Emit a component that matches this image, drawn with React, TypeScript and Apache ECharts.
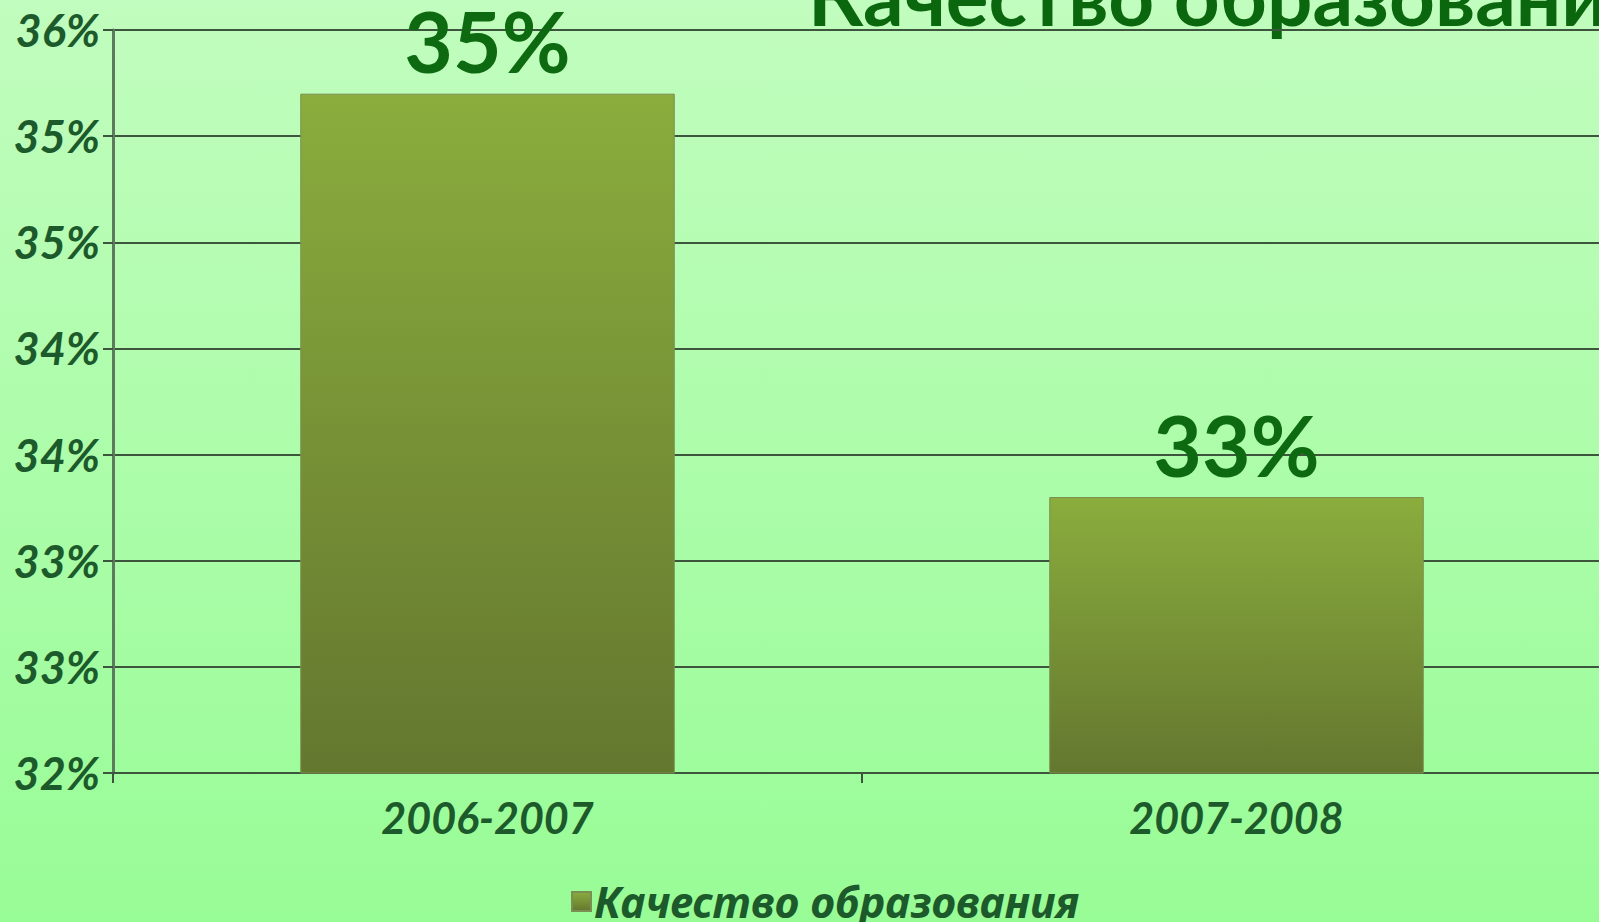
import React, { useEffect, useRef } from "react";
import * as echarts from "echarts";

const categories = ["2006-2007", "2007-2008"];
const qualityValues = [0.352, 0.333];
const yTickLabels = ["32%", "33%", "33%", "34%", "34%", "35%", "35%", "36%"];
const seriesName = "Качество образования";
const titleText = "Качество образования";

export default function App() {
  const ref = useRef<HTMLDivElement>(null);
  useEffect(() => {
    if (!ref.current) return;
    const chart = echarts.init(ref.current, null, { renderer: "svg" });
    const darkGreen = "#1d5a2b";
    const barGradient = {
      type: "linear",
      x: 0,
      y: 0,
      x2: 0,
      y2: 1,
      colorStops: [
        { offset: 0, color: "#8aad3d" },
        { offset: 1, color: "#64772f" },
      ],
    };
    chart.setOption({
      animation: false,
      backgroundColor: {
        type: "linear",
        x: 0,
        y: 0,
        x2: 0,
        y2: 1,
        colorStops: [
          { offset: 0, color: "#c1fdbe" },
          { offset: 1, color: "#98fc96" },
        ],
      },
      grid: { left: 113, top: 30, width: 1498, height: 743 },
      graphic: [
        {
          type: "text",
          left: 808,
          top: -45,
          style: {
            text: titleText,
            font: "bold 80px Lato",
            fill: "#0b670d",
          },
        },
      ],
      legend: {
        data: [seriesName],
        left: 571,
        top: 880,
        padding: 0,
        icon: "rect",
        itemWidth: 19,
        itemHeight: 19,
        itemGap: 4,
        textStyle: {
          color: darkGreen,
          fontFamily: "Noto Sans",
          fontWeight: "bold",
          fontStyle: "italic",
          fontSize: 43,
          padding: [0, 0, 0, -2],
        },
      },
      xAxis: {
        type: "category",
        data: categories,
        axisLine: { lineStyle: { color: "#3c553c", width: 2 } },
        axisTick: { show: true, length: 10, lineStyle: { color: "#3c553c", width: 2 } },
        axisLabel: {
          margin: 23,
          color: darkGreen,
          fontFamily: "Lato",
          fontWeight: "bold",
          fontStyle: "italic",
          fontSize: 43,
        },
      },
      yAxis: {
        type: "value",
        min: 0.32,
        max: 0.355,
        interval: 0.005,
        axisLine: { show: true, lineStyle: { color: "#5c7a5c", width: 3 } },
        axisTick: { show: true, length: 10, lineStyle: { color: "#3c553c", width: 2 } },
        splitLine: { lineStyle: { color: "#3c553c", width: 2 } },
        axisLabel: {
          margin: 13,
          color: darkGreen,
          fontFamily: "Lato",
          fontWeight: "bold",
          fontStyle: "italic",
          fontSize: 45,
          formatter: (_v: number, i: number) => yTickLabels[i] ?? "",
        },
      },
      series: [
        {
          name: seriesName,
          type: "bar",
          data: qualityValues,
          barWidth: "50%",
          itemStyle: { color: barGradient, borderColor: "#7b8f52", borderWidth: 1 },
          label: {
            show: true,
            position: "top",
            distance: 11,
            color: "#0e6a10",
            fontFamily: "Lato",
            fontWeight: "bold",
            fontSize: 84,
            formatter: (p: any) => Math.round(p.value * 100) + "%",
          },
        },
      ],
    });
    return () => chart.dispose();
  }, []);
  return (
    <div
      style={{
        position: "absolute",
        left: 0,
        top: 0,
        width: 1599,
        height: 922,
        overflow: "hidden",
      }}
    >
      <div ref={ref} style={{ width: 1625, height: 922 }} />
    </div>
  );
}
